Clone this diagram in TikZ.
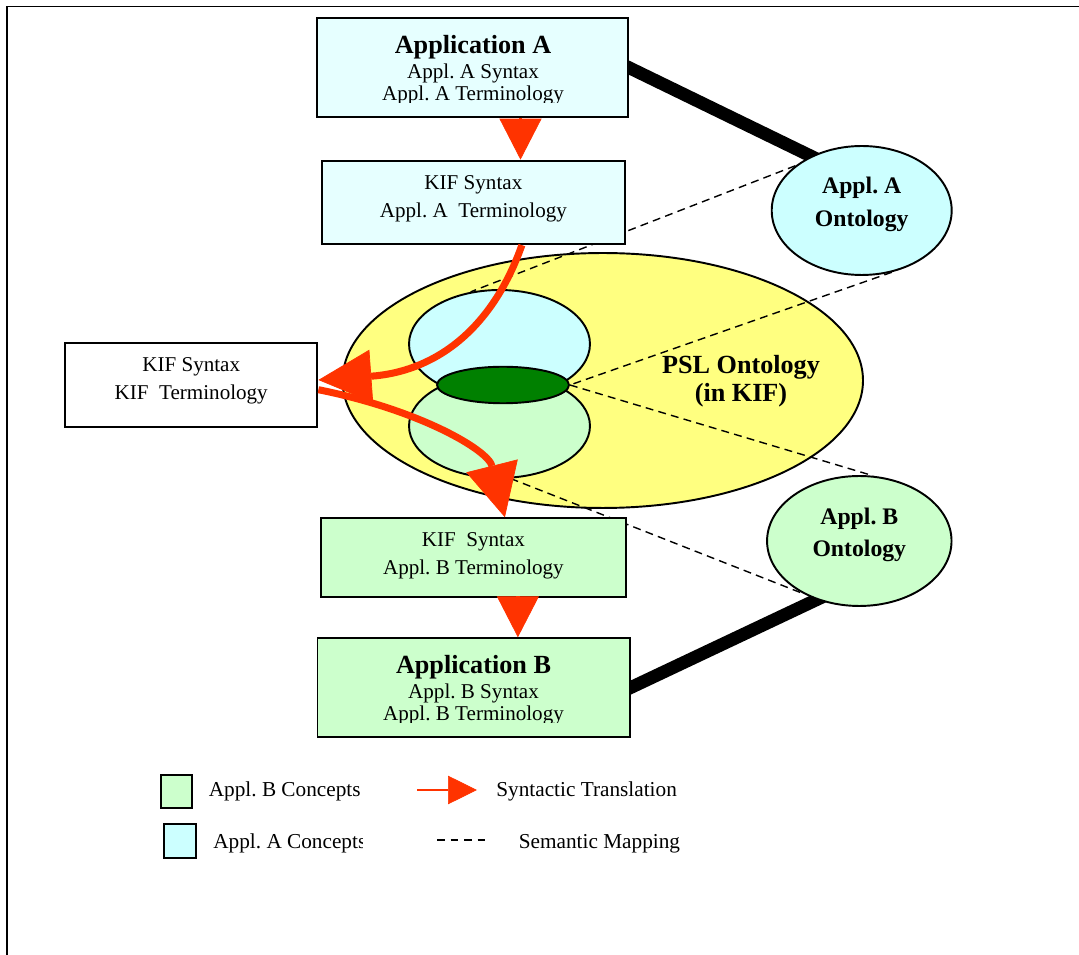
\documentclass[tikz,border=0pt]{standalone}
\usepackage{fontspec}
\setmainfont{Liberation Serif}
\usetikzlibrary{shapes.geometric,arrows.meta,calc}
\frenchspacing

\pgfdeclarelayer{back}
\pgfsetlayers{back,main}

\begin{document}
\begin{tikzpicture}[x=0.02cm, y=-0.02cm,
  kifbox/.style = {draw, line width=1.1pt, inner sep=0pt, align=center, text depth=7pt,
    font=\fontsize{12}{15.9}\selectfont},
  ontoell/.style = {draw, ellipse, line width=1.1pt, inner sep=0pt, align=center,
    font=\bfseries\fontsize{13.5}{18.7}\selectfont},
  apptitle/.style = {anchor=base, inner sep=0pt, font=\bfseries\fontsize{14.9}{16}\selectfont},
  appline/.style = {anchor=base, inner sep=0pt, font=\fontsize{12}{13}\selectfont},
  synarrow/.style = {draw=synred, line width=4pt,
    -{Triangle[length=1.06cm, width=1.06cm, line width=0.4pt]}},
  steparrow/.style = {draw=synred, line width=2pt,
    -{Triangle[length=0.82cm, width=0.84cm, line width=0.4pt]}},
  semline/.style = {line width=0.8pt, dash pattern=on 4.5pt off 3pt},
  tieline/.style = {line width=7.3pt},
  legsq/.style = {draw, line width=1.1pt, inner sep=0pt},
  legtext/.style = {anchor=base west, inner sep=0pt, font=\fontsize{12.1}{14}\selectfont}
  ]
  \useasboundingbox (0,0) rectangle (1079,955);

  \definecolor{apptint}{RGB}{230,255,255}
  \definecolor{conceptA}{RGB}{204,255,255}
  \definecolor{conceptB}{RGB}{204,255,204}
  \definecolor{pslfill}{RGB}{255,255,128}
  \definecolor{shared}{RGB}{0,128,0}
  \definecolor{synred}{RGB}{255,51,0}

  \draw[line width=1pt] (7.3,955) -- (7.3,6.5) -- (1079,6.5);

  % PSL ontology and the two concept sets
  \node[ontoell, fill=pslfill, minimum width=10.41cm, minimum height=5.1cm] (psl) at (602.8,380.5) {};
  \node[ontoell, fill=conceptA, minimum width=3.62cm, minimum height=2.16cm] (ellA) at (499.5,344) {};
  \node[ontoell, fill=conceptB, minimum width=3.62cm, minimum height=2.08cm] (ellB) at (499.5,426) {};
  \node[ontoell, fill=shared, minimum width=2.64cm, minimum height=0.73cm] (core) at (503,385) {};
  \node[align=center, font=\bfseries\fontsize{14.9}{16}\selectfont] (psltext) at (741,381) {PSL Ontology\\(in KIF)};

  \node[ontoell, fill=conceptA, minimum width=3.6cm, minimum height=2.58cm, text depth=10pt] (ontA) at (861.7,210.5) {Appl. A\\Ontology};
  \node[ontoell, fill=conceptB, minimum width=3.69cm, minimum height=2.6cm, text depth=10pt] (ontB) at (859.3,541) {Appl. B\\Ontology};

  % semantic mappings
  \draw[semline] (ontA.146) -- (ellA.119);
  \draw[semline] (ontA.-64) -- (core.east);
  \draw[semline] (core.east) -- (ontB.78);
  \draw[semline] (ellB.-78) -- (ontB.223);

  \node[kifbox, fill=apptint, minimum width=6.21cm, minimum height=1.97cm] (appA) at (472.5,67.5) {};
  \node[kifbox, fill=apptint, minimum width=6.07cm, minimum height=1.67cm] (kifA) at (473.4,202.4) {KIF Syntax\\Appl. A~ Terminology};
  \node[kifbox, fill=white, minimum width=5.05cm, minimum height=1.68cm] (kifX) at (191.2,384.7) {KIF Syntax\\KIF~ Terminology};
  \node[kifbox, fill=conceptB, minimum width=6.09cm, minimum height=1.57cm, text depth=5pt] (kifB) at (473.4,557.5) {KIF~ Syntax\\Appl. B Terminology};
  \node[kifbox, fill=conceptB, minimum width=6.25cm, minimum height=1.97cm] (appB) at (473.7,687.5) {};

  \node[apptitle] (appAtitle) at (473,54) {Application A};
  \node[appline] (appAsyn) at (473,78.3) {Appl. A Syntax};
  \begin{scope}
    \clip (appA.north west) rectangle (627.7,102.7);
    \node[appline] (appAterm) at (473,100.7) {Appl. A Terminology};
  \end{scope}
  \node[apptitle] (appBtitle) at (473.5,674) {Application B};
  \node[appline] (appBsyn) at (473.5,698.3) {Appl. B Syntax};
  \begin{scope}
    \clip (appB.north west) rectangle (630,722.5);
    \node[appline] (appBterm) at (473.5,720.7) {Appl. B Terminology};
  \end{scope}

  % ties, under everything
  \begin{pgfonlayer}{back}
    \draw[tieline] ($(appA.east)!-0.06!(ontA.133)$) -- ($(appA.east)!1.1!(ontA.133)$);
    \draw[tieline] ($(appB.east)!-0.06!(ontB.234)$) -- ($(appB.east)!1.1!(ontB.234)$);
  \end{pgfonlayer}

  % syntactic translations
  \coordinate (triA) at ($(appA.south)+(48,0)$);
  \coordinate (triB) at ($(kifB.south)+(44.5,0)$);
  \draw[steparrow] (triA) -- (triA |- kifA.north);
  \draw[steparrow] (triB) -- (triB |- appB.north);
  \draw[synarrow] ($(kifA.south)+(48.5,0)$) .. controls (490,335) and (430,372) .. ($(kifX.east)+(0,-4.7)$);
  \draw[synarrow] ($(kifX.east)+(0,5)$) .. controls (420,410) and (488,450) .. ($(kifB.north)+(31.5,0)$);

  % legend
  \node[legsq, fill=conceptB, minimum width=0.62cm, minimum height=0.65cm] (legB) at (176.2,791.3) {};
  \node[legtext] (legBtext) at (208.5,797) {Appl. B Concepts};
  \node[legsq, fill=conceptA, minimum width=0.63cm, minimum height=0.68cm] (legA) at (180.2,841.3) {};
  \begin{scope}
    \clip (200,815) rectangle (362,870);
    \node[legtext] (legAtext) at (213,848.5) {Appl. A Concepts};
  \end{scope}
  \coordinate (synFrom) at (417,790);
  \coordinate (synTo) at (477,790);
  \draw[draw=synred, line width=1.1pt, -{Triangle[length=0.58cm, width=0.57cm, line width=0.4pt]}] (synFrom) -- (synTo);
  \node[legtext] (synText) at (496,797) {Syntactic Translation};
  \coordinate (semFrom) at (437,840);
  \coordinate (semTo) at (486,840);
  \draw[line width=0.8pt, dash pattern=on 4.5pt off 3.2pt] (semFrom) -- (semTo);
  \node[legtext] (semText) at (518.5,848.5) {Semantic Mapping};
\end{tikzpicture}
\end{document}
